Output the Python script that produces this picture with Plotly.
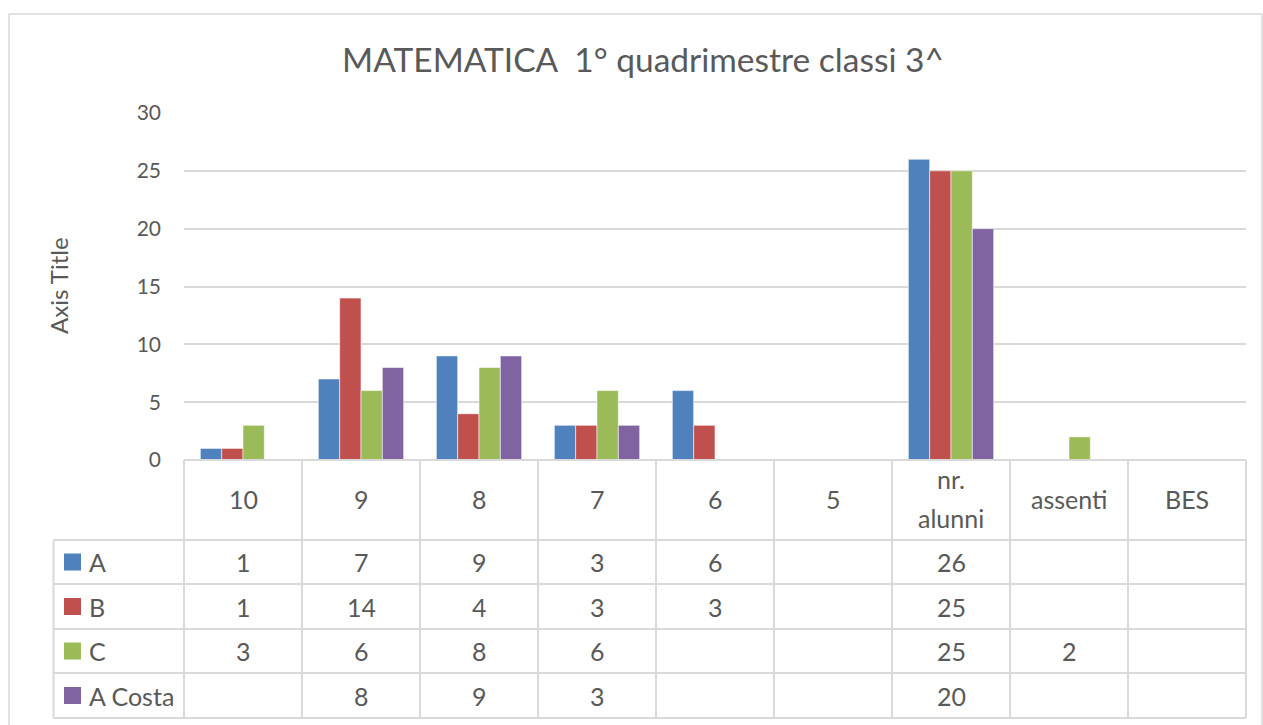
import plotly.graph_objects as go

W, H = 1263, 725

categories = ["10", "9", "8", "7", "6", "5", "nr. alunni", "assenti", "BES"]
header_lines = [["10"], ["9"], ["8"], ["7"], ["6"], ["5"], ["nr.", "alunni"], ["assenti"], ["BES"]]
series_names = ["A", "B", "C", "A Costa"]
values_A = [1, 7, 9, 3, 6, None, 26, None, None]
values_B = [1, 14, 4, 3, 3, None, 25, None, None]
values_C = [3, 6, 8, 6, None, None, 25, 2, None]
values_ACosta = [None, 8, 9, 3, None, None, 20, None, None]
colors = ["#4F81BD", "#C0504D", "#9BBB59", "#8064A2"]
y_ticks = [0, 5, 10, 15, 20, 25, 30]
title_text = "MATEMATICA \u00a01° quadrimestre classi 3^"

series_values = [values_A, values_B, values_C, values_ACosta]

FONT = "Lato"
TXT = "#595959"
GRID = "#d9d9d9"


def px(x):
    return x / W


def py(y):
    return 1 - y / H


# layout geometry (pixels)
PL, PR = 184, 1246
PT, PB = 113, 460
row_edges = [460, 540, 584, 629, 673, 718]
TL = 53.5

fig = go.Figure()
for name, vals, col in zip(series_names, series_values, colors):
    fig.add_trace(go.Bar(
        x=categories, y=vals, name=name,
        marker=dict(color=col, line=dict(color="rgba(255,255,255,0.55)", width=1)),
        showlegend=False,
    ))

shapes = []
line = dict(color=GRID, width=2)
# outer chart border
shapes.append(dict(type="rect", xref="paper", yref="paper",
                   x0=px(9), x1=px(1262), y0=py(740), y1=py(14),
                   line=dict(color=GRID, width=1.5)))
# table horizontal lines
shapes.append(dict(type="line", xref="paper", yref="paper",
                   x0=px(PL), x1=px(PR), y0=py(460), y1=py(460), line=line))
for ye in row_edges[1:]:
    shapes.append(dict(type="line", xref="paper", yref="paper",
                       x0=px(TL), x1=px(PR), y0=py(ye), y1=py(ye), line=line))
# table vertical lines
ncat = len(categories)
for i in range(ncat + 1):
    xe = PL + (PR - PL) * i / ncat
    shapes.append(dict(type="line", xref="paper", yref="paper",
                       x0=px(xe), x1=px(xe), y0=py(460), y1=py(718), line=line))
shapes.append(dict(type="line", xref="paper", yref="paper",
                   x0=px(TL), x1=px(TL), y0=py(540), y1=py(718), line=line))

annotations = []
TF = dict(family=FONT, size=25, color=TXT)
# header
for i, lines in enumerate(header_lines):
    if len(lines) == 1:
        ys = [499]
    else:
        ys = [479, 518]
    for txt, yy in zip(lines, ys):
        annotations.append(dict(x=i, xref="x", y=py(yy), yref="paper", text=txt,
                                showarrow=False, font=TF, xanchor="center", yanchor="middle"))
# rows
for r, (name, vals, col) in enumerate(zip(series_names, series_values, colors)):
    yc = (row_edges[r + 1] + row_edges[r + 2]) / 2
    shapes.append(dict(type="rect", xref="paper", yref="paper",
                       x0=px(64), x1=px(81), y0=py(yc + 8.5), y1=py(yc - 8.5),
                       fillcolor=col, line=dict(width=0)))
    annotations.append(dict(x=px(87), xref="paper", y=py(yc), yref="paper", text=name,
                            showarrow=False, font=TF, xanchor="left", yanchor="middle"))
    for i, v in enumerate(vals):
        if v is None:
            continue
        annotations.append(dict(x=i, xref="x", y=py(yc), yref="paper", text=str(v),
                                showarrow=False, font=TF, xanchor="center", yanchor="middle"))
# y axis title
annotations.append(dict(x=px(59), xref="paper", y=py(286), yref="paper", text="Axis Title",
                        textangle=-90, showarrow=False,
                        font=dict(family=FONT, size=24, color=TXT),
                        xanchor="center", yanchor="middle"))

fig.update_layout(
    width=W, height=H,
    margin=dict(l=0, r=0, t=0, b=0, pad=0),
    paper_bgcolor="white", plot_bgcolor="white",
    barmode="group", bargap=0.277, bargroupgap=0,
    title=dict(text=title_text, x=px(643), xanchor="center",
               y=py(60), yanchor="middle",
               font=dict(family=FONT, size=33.5, color=TXT)),
    xaxis=dict(domain=[px(PL), px(PR)], type="category", showticklabels=False,
               showgrid=False, showline=False, zeroline=False, ticks="", automargin=False),
    yaxis=dict(domain=[py(PB), py(PT)], range=[0, 30], tickvals=y_ticks,
               showgrid=True, gridcolor=GRID, gridwidth=1.5, zeroline=False,
               showline=False, ticks="", ticklabelstandoff=22, automargin=False,
               tickfont=dict(family=FONT, size=21, color=TXT)),
    shapes=shapes,
    annotations=annotations,
    font=dict(family=FONT, color=TXT),
)

fig.write_html("out.html", config={"displayModeBar": False},
               post_script="document.body.style.margin='0';")
